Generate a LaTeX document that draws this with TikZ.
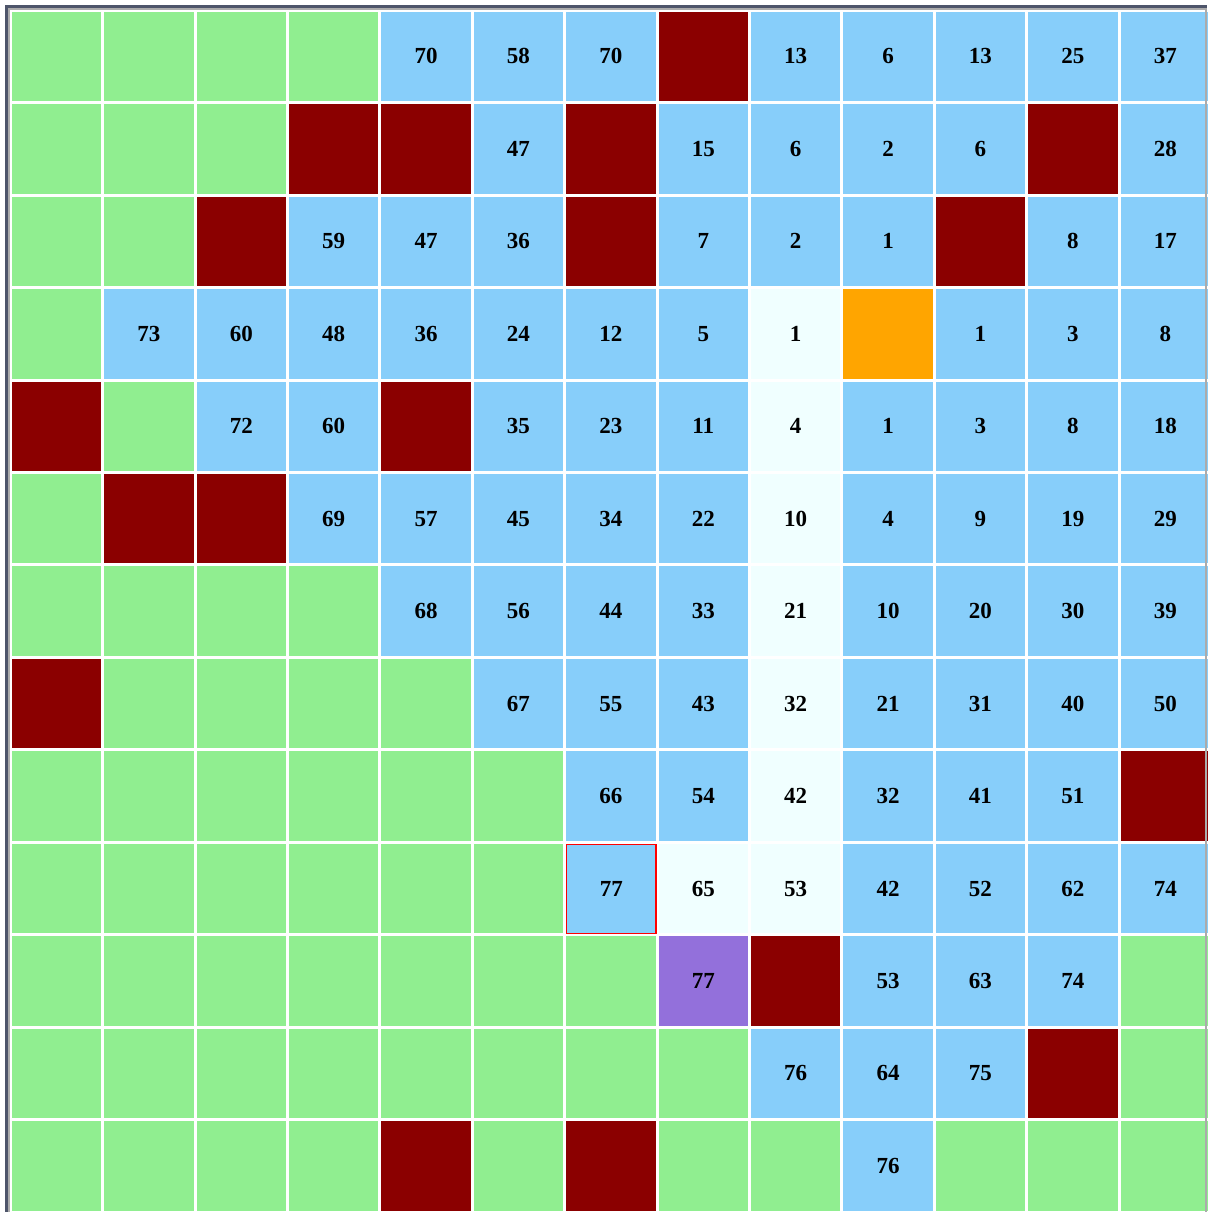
\documentclass[tikz,border=0pt]{standalone}
\usepackage{fontspec}
\setmainfont{Liberation Serif}
\usepackage{tikz}
\definecolor{openGreen}{HTML}{90EE90}
\definecolor{skyBlue}{HTML}{87CEFA}
\definecolor{wallRed}{HTML}{8B0000}
\definecolor{startOrange}{HTML}{FFA500}
\definecolor{routeWhite}{HTML}{F0FFFF}
\definecolor{goalPurple}{HTML}{9370DB}
\definecolor{frameDark}{HTML}{4E556A}
\definecolor{frameGrey}{HTML}{ABABAB}
\tikzset{
  cell/.style = {anchor=north west, minimum width=89.5pt, minimum height=89.5pt,
                 inner sep=0pt, font=\fontsize{23}{28}\selectfont\bfseries},
  g/.style    = {fill=openGreen},
  r/.style    = {fill=wallRed},
  b/.style    = {fill=skyBlue},
  w/.style    = {fill=routeWhite},
  o/.style    = {fill=startOrange},
  p/.style    = {fill=goalPurple},
  q/.style    = {fill=skyBlue, draw=red, line width=1.4pt}
}

\begin{document}
\begin{tikzpicture}[x=1pt, y=-1pt]
  \useasboundingbox (0,0) rectangle (1207,1212);
  % window frame
  \fill[white] (0,0) rectangle (1207,1212);
  \fill[frameDark] (5,5) rectangle (1207,1212);
  \fill[frameGrey] (8,8) rectangle (1207,1212);
  \fill[white] (10,10) rectangle (1205,1212);
  % grid, row by row
  \foreach \row [count=\j from 0] in {
    {g/{},g/{},g/{},g/{},b/70,b/58,b/70,r/{},b/13,b/6,b/13,b/25,b/37},
    {g/{},g/{},g/{},r/{},r/{},b/47,r/{},b/15,b/6,b/2,b/6,r/{},b/28},
    {g/{},g/{},r/{},b/59,b/47,b/36,r/{},b/7,b/2,b/1,r/{},b/8,b/17},
    {g/{},b/73,b/60,b/48,b/36,b/24,b/12,b/5,w/1,o/{},b/1,b/3,b/8},
    {r/{},g/{},b/72,b/60,r/{},b/35,b/23,b/11,w/4,b/1,b/3,b/8,b/18},
    {g/{},r/{},r/{},b/69,b/57,b/45,b/34,b/22,w/10,b/4,b/9,b/19,b/29},
    {g/{},g/{},g/{},g/{},b/68,b/56,b/44,b/33,w/21,b/10,b/20,b/30,b/39},
    {r/{},g/{},g/{},g/{},g/{},b/67,b/55,b/43,w/32,b/21,b/31,b/40,b/50},
    {g/{},g/{},g/{},g/{},g/{},g/{},b/66,b/54,w/42,b/32,b/41,b/51,r/{}},
    {g/{},g/{},g/{},g/{},g/{},g/{},q/77,w/65,w/53,b/42,b/52,b/62,b/74},
    {g/{},g/{},g/{},g/{},g/{},g/{},g/{},p/77,r/{},b/53,b/63,b/74,g/{}},
    {g/{},g/{},g/{},g/{},g/{},g/{},g/{},g/{},b/76,b/64,b/75,r/{},g/{}},
    {g/{},g/{},g/{},g/{},r/{},g/{},r/{},g/{},g/{},b/76,g/{},g/{},g/{}}}
    \foreach \s/\v [count=\i from 0] in \row
      \node[cell, \s] (c\i-\j) at (\i*92.4+11.5, \j*92.45+11.5) {\v};
  % right edge of the frame
  \fill[frameGrey] (1205,8) rectangle (1207,1212);
\end{tikzpicture}
\end{document}
